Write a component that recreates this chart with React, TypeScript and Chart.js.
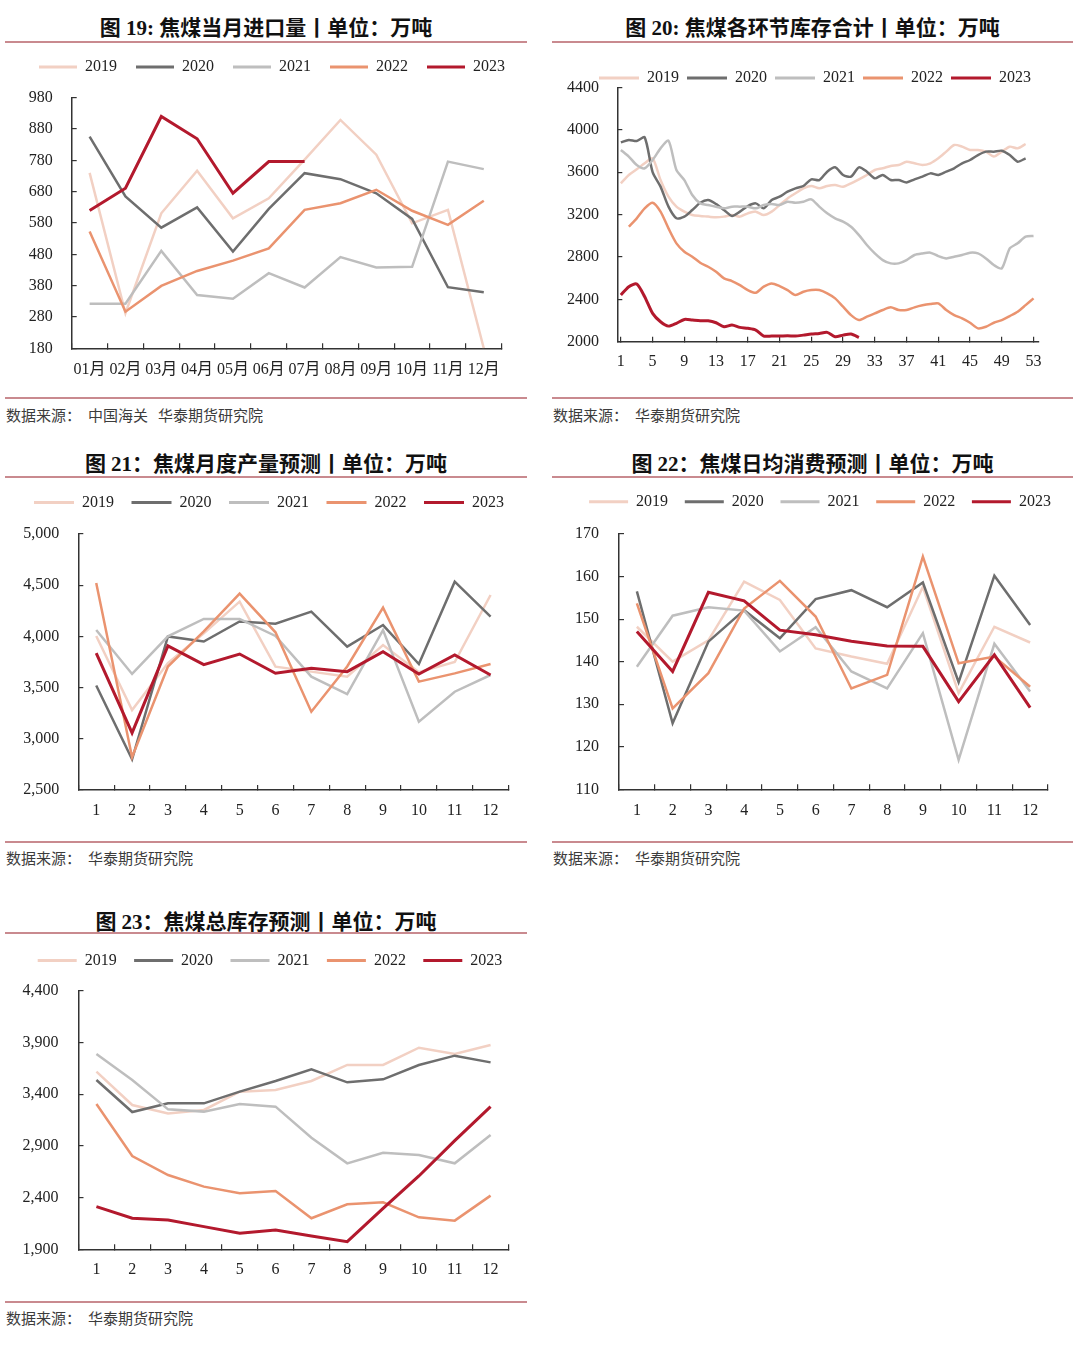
import React, { useEffect, useRef } from 'react';
import { Chart, registerables } from 'chart.js';

Chart.register(...registerables);

// ---------- shared ----------
const SERIES_NAMES = ['2019', '2020', '2021', '2022', '2023'];
const COLORS = ['#f2d0c3', '#6e6e6e', '#bebebe', '#ea936f', '#b3192d'];
const LINE_W = [2.5, 2.5, 2.5, 2.5, 3];
const AXIS_COLOR = '#333333';
const TEXT_COLOR = '#222222';
const RULE_COLOR = '#c98a8f';
const SERIF = '"Liberation Serif", "Noto Sans CJK SC", serif';
const CJK = '"Noto Sans CJK SC", "Noto Sans", sans-serif';

// ---------- Fig 19: monthly coking-coal imports ----------
const importMonths = ['01月', '02月', '03月', '04月', '05月', '06月', '07月', '08月', '09月', '10月', '11月', '12月'];
const import2019 = [740, 292, 611, 747, 595, 659, 782, 909, 798, 579, 622, 180];
const import2020 = [856, 665, 565, 630, 489, 625, 739, 720, 675, 593, 375, 359];
const import2021 = [322, 322, 491, 350, 338, 420, 374, 471, 438, 440, 776, 752];
const import2022 = [553, 297, 379, 427, 460, 499, 622, 643, 686, 619, 574, 651];
const import2023 = [620, 691, 920, 849, 675, 776, 776];

// ---------- Fig 20: weekly total inventory ----------
const weeks = [1, 2, 3, 4, 5, 6, 7, 8, 9, 10, 11, 12, 13, 14, 15, 16, 17, 18, 19, 20, 21, 22, 23, 24, 25, 26, 27,
  28, 29, 30, 31, 32, 33, 34, 35, 36, 37, 38, 39, 40, 41, 42, 43, 44, 45, 46, 47, 48, 49, 50, 51, 52, 53];
const weekTicks = [1, 5, 9, 13, 17, 21, 25, 29, 33, 37, 41, 45, 49, 53];
const stock2019 = [3494, 3573, 3626, 3683, 3730, 3525, 3368, 3274, 3227, 3195, 3186, 3180, 3173, 3180, 3195, 3180,
  3211, 3227, 3195, 3227, 3289, 3352, 3400, 3447, 3469, 3447, 3469, 3478, 3462, 3494, 3532, 3573, 3620, 3636, 3658,
  3667, 3698, 3683, 3667, 3683, 3730, 3793, 3856, 3840, 3809, 3809, 3793, 3746, 3793, 3840, 3824, 3865];
const stock2020 = [3881, 3903, 3893, 3928, 3600, 3463, 3274, 3164, 3179, 3242, 3311, 3337, 3299, 3242, 3186, 3227,
  3280, 3305, 3258, 3337, 3368, 3415, 3447, 3469, 3532, 3525, 3604, 3645, 3573, 3557, 3645, 3604, 3541, 3573, 3525,
  3525, 3503, 3532, 3557, 3588, 3573, 3604, 3636, 3683, 3714, 3761, 3793, 3793, 3802, 3761, 3698, 3730];
const stock2021 = [3809, 3746, 3667, 3636, 3714, 3824, 3897, 3620, 3525, 3384, 3305, 3289, 3274, 3258, 3274, 3274,
  3274, 3258, 3289, 3299, 3289, 3321, 3311, 3321, 3343, 3274, 3211, 3164, 3132, 3085, 3006, 2912, 2833, 2770, 2739,
  2739, 2770, 2818, 2833, 2840, 2808, 2786, 2802, 2818, 2840, 2833, 2786, 2723, 2692, 2880, 2928, 2991, 2997];
const stock2022 = [null, 3085, 3164, 3258, 3311, 3227, 3069, 2928, 2849, 2802, 2745, 2707, 2660, 2597, 2572, 2534,
  2487, 2462, 2519, 2550, 2525, 2487, 2440, 2471, 2487, 2487, 2456, 2409, 2330, 2251, 2204, 2236, 2267, 2299, 2324,
  2299, 2299, 2324, 2343, 2355, 2361, 2299, 2251, 2220, 2179, 2126, 2141, 2179, 2204, 2242, 2283, 2345, 2409];
const stock2023 = [2440, 2519, 2544, 2424, 2267, 2188, 2147, 2173, 2210, 2204, 2198, 2198, 2179, 2141, 2157, 2135,
  2126, 2110, 2053, 2053, 2053, 2056, 2053, 2062, 2072, 2078, 2088, 2047, 2062, 2072, 2040];

// ---------- Fig 21: monthly output forecast ----------
const months = ['1', '2', '3', '4', '5', '6', '7', '8', '9', '10', '11', '12'];
const output2019 = [4004, 3281, 3740, 4030, 4339, 3704, 3656, 3607, 3916, 3650, 3750, 4404];
const output2020 = [3520, 2800, 4000, 3950, 4146, 4123, 4242, 3900, 4111, 3730, 4534, 4193];
const output2021 = [4062, 3633, 4000, 4170, 4170, 4004, 3607, 3437, 4062, 3167, 3460, 3623];
const output2022 = [4521, 2820, 3706, 4048, 4417, 4040, 3265, 3706, 4281, 3558, 3639, 3730];
const output2023 = [3836, 3058, 3908, 3724, 3828, 3640, 3688, 3656, 3851, 3633, 3818, 3623];

// ---------- Fig 22: daily consumption forecast ----------
const use2019 = [148.2, 140.0, 145.0, 158.8, 154.5, 143.1, 141.2, 139.5, 157.6, 132.6, 148.2, 144.5];
const use2020 = [156.5, 125.5, 144.7, 152.1, 145.5, 154.7, 156.8, 152.8, 158.6, 135.2, 160.2, 148.6];
const use2021 = [138.8, 150.8, 152.8, 152.0, 142.4, 148.1, 137.7, 133.7, 146.7, 116.9, 144.2, 133.0];
const use2022 = [153.7, 129.0, 137.3, 152.5, 159.0, 150.6, 133.7, 136.9, 164.7, 139.6, 141.2, 134.1];
const use2023 = [147.1, 137.7, 156.3, 154.3, 147.4, 146.3, 144.8, 143.7, 143.6, 130.6, 141.6, 129.2];

// ---------- Fig 23: total inventory forecast ----------
const total2019 = [3617, 3295, 3214, 3247, 3424, 3440, 3527, 3682, 3682, 3849, 3788, 3875];
const total2020 = [3537, 3227, 3311, 3311, 3424, 3527, 3640, 3514, 3543, 3682, 3772, 3707];
const total2021 = [3788, 3537, 3253, 3231, 3305, 3279, 2979, 2731, 2834, 2812, 2731, 3005];
const total2022 = [3305, 2802, 2618, 2506, 2441, 2464, 2200, 2335, 2354, 2209, 2177, 2419];
const total2023 = [2312, 2200, 2184, 2119, 2055, 2087, 2029, 1974, 2296, 2609, 2950, 3279];

// ---------- layout ----------
type Geo = {
  lc: number; legendY: number; cl: number; cr: number; ct: number; cb: number;
  boxW: number; legPad: number; yPad: number; xPad: number;
};
type Spec = {
  xType: 'category' | 'linear';
  labels: (string | number)[];
  series: (number | null)[][];
  yMin: number; yMax: number; yStep: number; plainY?: boolean;
  xMin?: number; xMax?: number; xTicks?: number[];
  tension: number;
  geo: Geo;
};

const CANVAS_W = 512;

const SPECS: Spec[] = [
  {
    xType: 'category', labels: importMonths,
    series: [import2019, import2020, import2021, import2022, import2023],
    yMin: 180, yMax: 980, yStep: 100, plainY: true, tension: 0,
    geo: { lc: 272, legendY: 66.7, cl: 71.7, cr: 501.7, ct: 97.7, cb: 348.3, boxW: 38, legPad: 19, yPad: 24, xPad: 17 },
  },
  {
    xType: 'linear', labels: weeks,
    series: [stock2019, stock2020, stock2021, stock2022, stock2023],
    yMin: 2000, yMax: 4400, yStep: 400, plainY: true, tension: 0.25,
    xMin: 0.55, xMax: 53.6, xTicks: weekTicks,
    geo: { lc: 815, legendY: 78.3, cl: 617.3, cr: 1038.3, ct: 87.3, cb: 341.7, boxW: 40, legPad: 8, yPad: 23.4, xPad: 15.5 },
  },
  {
    xType: 'category', labels: months,
    series: [output2019, output2020, output2021, output2022, output2023],
    yMin: 2500, yMax: 5000, yStep: 500, tension: 0,
    geo: { lc: 269, legendY: 502.7, cl: 78.3, cr: 508.5, ct: 534, cb: 790, boxW: 40, legPad: 17.5, yPad: 24, xPad: 16.5 },
  },
  {
    xType: 'category', labels: months,
    series: [use2019, use2020, use2021, use2022, use2023],
    yMin: 110, yMax: 170, yStep: 10, plainY: true, tension: 0,
    geo: { lc: 819.5, legendY: 502, cl: 619, cr: 1048, ct: 534, cb: 789.3, boxW: 39, legPad: 16.7, yPad: 25, xPad: 16.5 },
  },
  {
    xType: 'category', labels: months,
    series: [total2019, total2020, total2021, total2022, total2023],
    yMin: 1900, yMax: 4400, yStep: 500, tension: 0,
    geo: { lc: 269.6, legendY: 960, cl: 78.5, cr: 508.5, ct: 990.7, cb: 1249.3, boxW: 39, legPad: 17.4, yPad: 25, xPad: 16 },
  },
];

type Panel = {
  left: number; right: number; titleY: number; title: string;
  rule1: number; rule2: number; sourceY: number; sources: string[];
};
const PANELS: Panel[] = [
  { left: 5, right: 527, titleY: 28.3, title: '图 19: 焦煤当月进口量丨单位：万吨', rule1: 41.7, rule2: 398.3, sourceY: 415, sources: ['中国海关', '华泰期货研究院'] },
  { left: 552, right: 1073, titleY: 28.3, title: '图 20: 焦煤各环节库存合计丨单位：万吨', rule1: 41.7, rule2: 398.3, sourceY: 415, sources: ['华泰期货研究院'] },
  { left: 5, right: 527, titleY: 464, title: '图 21：焦煤月度产量预测丨单位：万吨', rule1: 477.3, rule2: 841.7, sourceY: 858.3, sources: ['华泰期货研究院'] },
  { left: 552, right: 1073, titleY: 464, title: '图 22：焦煤日均消费预测丨单位：万吨', rule1: 477.3, rule2: 842.3, sourceY: 858.3, sources: ['华泰期货研究院'] },
  { left: 5, right: 527, titleY: 921.7, title: '图 23：焦煤总库存预测丨单位：万吨', rule1: 933.3, rule2: 1301.7, sourceY: 1318.3, sources: ['华泰期货研究院'] },
];

function LineChart({ spec }: { spec: Spec }) {
  const ref = useRef<HTMLCanvasElement | null>(null);
  const g = spec.geo;
  const x0 = Math.round(g.lc - CANVAS_W / 2);
  const top = Math.round(g.legendY - g.legPad - 8);
  const h = Math.round(g.cb + 42 - top);
  const legendH = g.ct - top;
  const xHeight = top + h - g.cb;
  const yWidth = g.cl - x0;
  const y2Width = x0 + CANVAS_W - g.cr;

  useEffect(() => {
    const canvas = ref.current;
    if (!canvas) return;
    const font = { family: SERIF, size: 16 };
    const gridOpts = { drawOnChartArea: false, color: AXIS_COLOR, lineWidth: 1.2, tickLength: -5 };
    const border = { color: AXIS_COLOR, width: 1.5 };

    const xScale: any = spec.xType === 'category'
      ? {
        type: 'category', offset: true,
        grid: { ...gridOpts, offset: true }, border,
        ticks: { color: TEXT_COLOR, font, padding: g.xPad, autoSkip: false, maxRotation: 0, minRotation: 0 },
        afterFit: (s: any) => { s.height = xHeight; s.paddingLeft = 0; s.paddingRight = 0; },
      }
      : {
        type: 'linear', min: spec.xMin, max: spec.xMax,
        grid: gridOpts, border,
        ticks: { color: TEXT_COLOR, font, padding: g.xPad, autoSkip: false, maxRotation: 0, minRotation: 0, callback: (v: any) => String(v) },
        afterBuildTicks: (s: any) => { s.ticks = (spec.xTicks || []).map((v) => ({ value: v })); },
        afterFit: (s: any) => { s.height = xHeight; s.paddingLeft = 0; s.paddingRight = 0; },
      };

    const yTicks: any = { stepSize: spec.yStep, color: TEXT_COLOR, font, padding: g.yPad };
    if (spec.plainY) yTicks.callback = (v: any) => String(v);

    const fixLegend = {
      id: 'fixLegend',
      beforeLayout(chart: any) {
        const lg = chart.legend;
        if (lg && !lg.__fixed) {
          const orig = lg.fit.bind(lg);
          lg.fit = () => { orig(); lg.height = legendH; };
          lg.__fixed = true;
        }
      },
    };

    const chart = new Chart(canvas, {
      type: 'line',
      data: {
        labels: spec.labels as any,
        datasets: spec.series.map((d, i) => ({
          label: SERIES_NAMES[i],
          data: d as any,
          borderColor: COLORS[i],
          backgroundColor: COLORS[i],
          borderWidth: LINE_W[i],
          pointRadius: 0,
          pointHoverRadius: 0,
          tension: spec.tension,
          fill: false,
          order: 5 - i,
          xAxisID: 'x',
          yAxisID: 'y',
        })),
      },
      options: {
        responsive: false,
        maintainAspectRatio: false,
        animation: false,
        devicePixelRatio: 1,
        layout: { padding: 0 },
        plugins: {
          legend: {
            display: true,
            position: 'top',
            align: 'center',
            labels: {
              boxWidth: g.boxW,
              boxHeight: 3,
              padding: g.legPad,
              color: TEXT_COLOR,
              font,
              sort: (a: any, b: any) => a.datasetIndex - b.datasetIndex,
              generateLabels: (c: any) =>
                (Chart.defaults as any).plugins.legend.labels.generateLabels(c).map((l: any) => ({ ...l, lineWidth: 0 })),
            },
          },
          tooltip: { enabled: false },
        },
        scales: {
          x: xScale,
          y: {
            type: 'linear', min: spec.yMin, max: spec.yMax,
            grid: gridOpts, border, ticks: yTicks,
            afterFit: (s: any) => { s.width = yWidth; s.paddingTop = 0; s.paddingBottom = 0; },
          },
          y2: {
            type: 'linear', position: 'right', display: true,
            grid: { display: false, drawTicks: false }, border: { display: false },
            ticks: { display: false },
            afterFit: (s: any) => { s.width = y2Width; s.paddingTop = 0; s.paddingBottom = 0; },
          },
        } as any,
      },
      plugins: [fixLegend],
    });
    return () => chart.destroy();
  }, []);

  return (
    <canvas
      ref={ref}
      width={CANVAS_W}
      height={h}
      style={{ position: 'absolute', left: x0, top, width: CANVAS_W, height: h }}
    />
  );
}

function PanelFrame({ p }: { p: Panel }) {
  const w = p.right - p.left;
  const sourceOffsets = p.sources.length === 2 ? [82, 152] : [82];
  return (
    <>
      <div style={{
        position: 'absolute', left: p.left, width: w, top: p.titleY - 14, height: 28, lineHeight: '28px',
        textAlign: 'center', fontFamily: SERIF, fontWeight: 700, fontSize: 21, color: '#111', whiteSpace: 'nowrap',
      }}>{p.title}</div>
      <div style={{ position: 'absolute', left: p.left, width: w, top: p.rule1 - 1, height: 2, background: RULE_COLOR }} />
      <div style={{ position: 'absolute', left: p.left, width: w, top: p.rule2 - 1, height: 2, background: RULE_COLOR }} />
      <div style={{
        position: 'absolute', left: p.left + 1, top: p.sourceY - 10, height: 20, width: w,
        fontFamily: CJK, fontSize: 15, lineHeight: '20px', color: '#3c3c3c', whiteSpace: 'nowrap',
      }}>
        <span style={{ position: 'absolute', left: 0 }}>数据来源：</span>
        {p.sources.map((s, i) => (
          <span key={s} style={{ position: 'absolute', left: sourceOffsets[i] }}>{s}</span>
        ))}
      </div>
    </>
  );
}

export default function App() {
  return (
    <div style={{ position: 'absolute', left: 0, top: 0, width: 1080, height: 1363, background: '#ffffff', overflow: 'hidden' }}>
      {PANELS.map((p, i) => <PanelFrame key={'p' + i} p={p} />)}
      {SPECS.map((s, i) => <LineChart key={'c' + i} spec={s} />)}
    </div>
  );
}
